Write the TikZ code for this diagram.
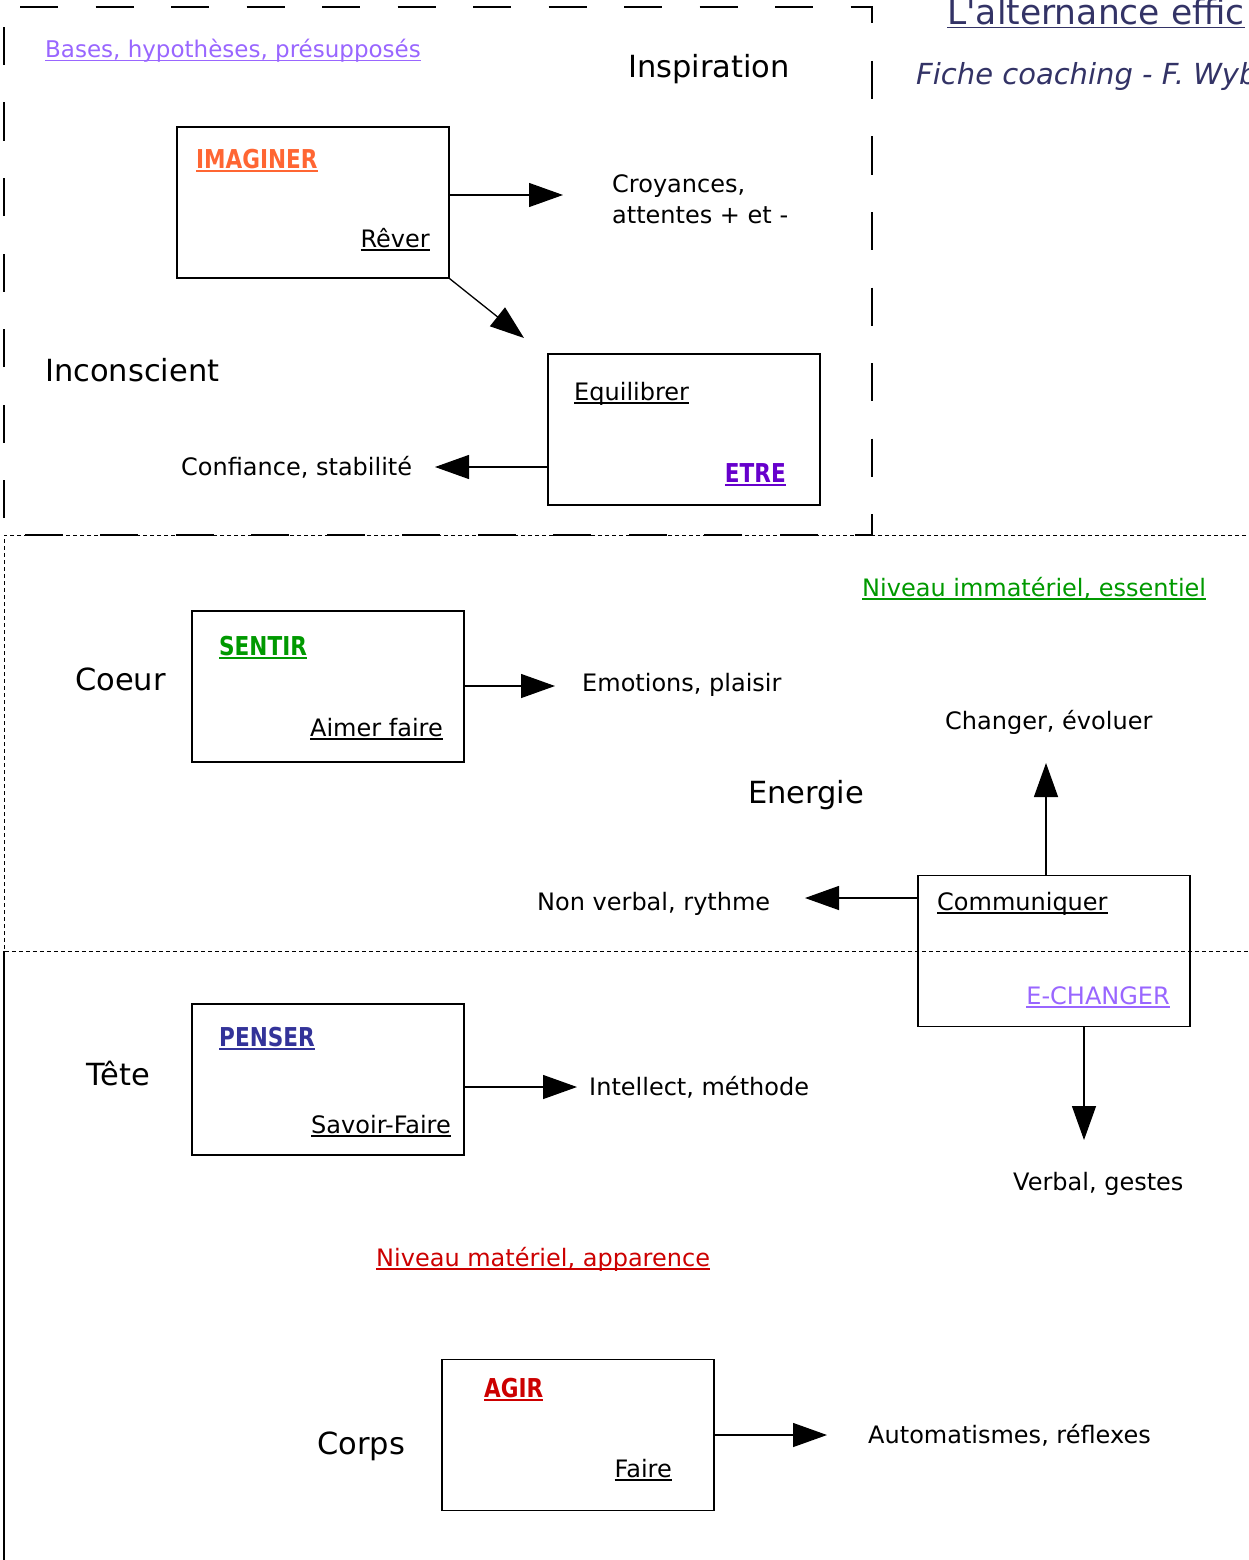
\documentclass[tikz,border=0pt]{standalone}
\usepackage{fontspec}
\setmainfont{DejaVu Sans}[BoldFeatures={FakeStretch=0.83}]
\newfontfamily\plainfont{DejaVu Sans}[Ligatures=TeXOff]
\usetikzlibrary{arrows.meta}
\definecolor{lilac}{HTML}{9966FF}
\definecolor{orng}{HTML}{FF6633}
\definecolor{etrec}{HTML}{6600CC}
\definecolor{grn}{HTML}{009900}
\definecolor{navyb}{HTML}{333399}
\definecolor{redc}{HTML}{CC0000}
\definecolor{titlec}{HTML}{333366}
\newsavebox\ulbox
\newcommand\ulx[1]{\sbox\ulbox{#1}\rlap{\rule[-3.5pt]{\wd\ulbox}{1.5pt}}\usebox\ulbox}
\tikzset{
  txt/.style={inner sep=0pt, anchor=base west, font=\fontsize{24}{29}\selectfont},
  txtr/.style={inner sep=0pt, anchor=base east, font=\fontsize{24}{29}\selectfont},
  big/.style={inner sep=0pt, anchor=base west, font=\fontsize{30.5}{36}\selectfont},
  bld/.style={inner sep=0pt, anchor=base west, font=\fontsize{26}{31}\selectfont\bfseries},
  bldr/.style={inner sep=0pt, anchor=base east, font=\fontsize{26}{31}\selectfont\bfseries},
  box/.style={draw, line width=1.3pt, minimum width=272pt, minimum height=151pt, inner sep=0pt},
  arr/.style={line width=1.3pt, -{Triangle[length=34pt,width=24pt]}},
}
\begin{document}
\begin{tikzpicture}[x=1pt,y=-1pt]
\useasboundingbox (0,0) rectangle (1249,1560);
% frames
\draw[line width=1.2pt, dash pattern=on 38pt off 37.5pt, dash phase=59.5pt]
  (4,7) -- (872,7) -- (872,535) -- (4,535) -- cycle;
\draw[line width=1pt, dash pattern=on 4pt off 3pt] (1260,535) -- (4,535) -- (4,951) -- (1260,951);
\draw[line width=1.3pt] (4,951) -- (4,1560);
% title
\node[inner sep=0pt, anchor=base west, text=titlec, font=\fontsize{34.5}{40}\selectfont\plainfont] (title) at (947,25) {\ulx{L'alternance effic}};
\node[inner sep=0pt, anchor=base west, text=titlec, font=\fontsize{29}{35}\selectfont\itshape] (fiche) at (916,85) {Fiche coaching - F. Wyb};
% top region
\node[txt, text=lilac, font=\fontsize{23}{28}\selectfont] (bases) at (45,58) {\ulx{Bases, hypothèses, présupposés}};
\node[big] (insp) at (628,78) {Inspiration};
\node[box] (imag) at (313,202.5) {};
\node[bld, text=orng] (imagt) at (196,168) {\ulx{IMAGINER}};
\node[txtr] (rever) at (430,247) {\ulx{Rêver}};
\node[txt] (croy) at (612,192) {Croyances,};
\node[txt] (att) at (612,223) {attentes + et -};
\coordinate (t1) at (563,195);
\draw[arr] (imag.east |- t1) -- (t1);
\coordinate (t2) at (524,338);
\draw[arr] (imag.south east) -- (t2);
\node[big] (incon) at (45,381) {Inconscient};
\node[box] (equi) at (684,429.5) {};
\node[txt] (equit) at (574,400) {\ulx{Equilibrer}};
\node[bldr, text=etrec] (etre) at (786,482) {\ulx{ETRE}};
\coordinate (t3) at (435,467);
\draw[arr] (equi.west |- t3) -- (t3);
\node[txt] (conf) at (181,475) {Confiance, stabilité};
% middle region
\node[txt, text=grn] (immat) at (862,596) {\ulx{Niveau immatériel, essentiel}};
\node[box] (sent) at (328,686.5) {};
\node[bld, text=grn] (sentt) at (219,655) {\ulx{SENTIR}};
\node[txtr] (aimer) at (443,736) {\ulx{Aimer faire}};
\node[big] (coeur) at (75,690) {Coeur};
\coordinate (t4) at (555,686);
\draw[arr] (sent.east |- t4) -- (t4);
\node[txt] (emo) at (582,691) {Emotions, plaisir};
\node[txt] (chg) at (945,729) {Changer, évoluer};
\node[big] (ener) at (748,803) {Energie};
\node[box] (comm) at (1054,951) {};
\node[txt] (commt) at (937,910) {\ulx{Communiquer}};
\node[txtr, text=lilac] (echg) at (1170,1004) {\ulx{E-CHANGER}};
\coordinate (t5) at (1046,763);
\draw[arr] (comm.north -| t5) -- (t5);
\coordinate (t6) at (805,898);
\draw[arr] (comm.west |- t6) -- (t6);
\node[txt] (nonv) at (537,910) {Non verbal, rythme};
\coordinate (t7) at (1084,1140);
\draw[arr] (comm.south -| t7) -- (t7);
\node[txt] (verb) at (1013,1190) {Verbal, gestes};
% bottom region
\node[big] (tete) at (86,1085) {Tête};
\node[box] (pens) at (328,1079.5) {};
\node[bld, text=navyb] (penst) at (219,1046) {\ulx{PENSER}};
\node[txtr] (savoir) at (451,1133) {\ulx{Savoir-Faire}};
\coordinate (t8) at (577,1087);
\draw[arr] (pens.east |- t8) -- (t8);
\node[txt] (intel) at (589,1095) {Intellect, méthode};
\node[txt, text=redc] (mat) at (376,1266) {\ulx{Niveau matériel, apparence}};
\node[box] (agir) at (578,1435) {};
\node[bld, text=redc] (agirt) at (484,1397) {\ulx{AGIR}};
\node[txtr] (faire) at (672,1477) {\ulx{Faire}};
\node[big] (corps) at (317,1454) {Corps};
\coordinate (t9) at (827,1435);
\draw[arr] (agir.east |- t9) -- (t9);
\node[txt] (auto) at (868,1443) {Automatismes, réflexes};
\end{tikzpicture}
\end{document}
